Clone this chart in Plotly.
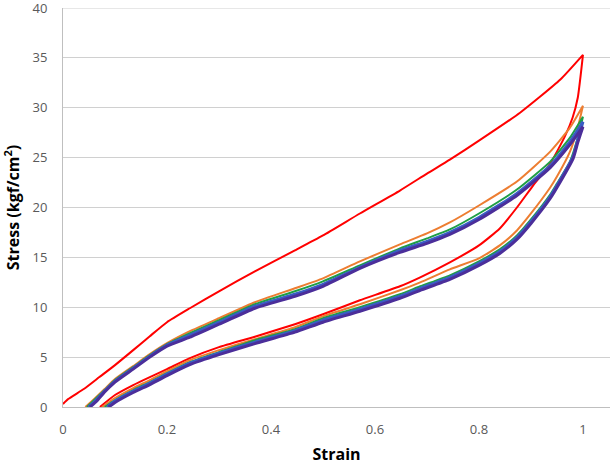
import plotly.graph_objects as go

# ---- data (strain, stress in kgf/cm^2) ----
red_load_x = [0, 0.01, 0.04, 0.07, 0.1, 0.135, 0.167, 0.2, 0.244, 0.3, 0.369, 0.446, 0.5, 0.571, 0.648, 0.7, 0.744, 0.8, 0.879, 0.956, 1.0]
red_load_y = [0.3, 0.8, 1.8, 3.0, 4.2, 5.7, 7.1, 8.5, 9.9, 11.6, 13.6, 15.7, 17.2, 19.4, 21.7, 23.4, 24.8, 26.7, 29.5, 32.8, 35.3]
red_unload_x = [1.0, 0.99, 0.98, 0.965, 0.937, 0.904, 0.873, 0.84, 0.8, 0.744, 0.687, 0.648, 0.571, 0.5, 0.446, 0.369, 0.3, 0.244, 0.2, 0.167, 0.135, 0.1, 0.071]
red_unload_y = [35.3, 31.0, 29.0, 27.1, 24.4, 22.2, 20.0, 17.9, 16.2, 14.5, 13.0, 12.1, 10.7, 9.3, 8.3, 7.05, 6.0, 4.9, 3.8, 3.0, 2.2, 1.2, 0]

load_x_orange = [0.043, 0.06, 0.08, 0.1, 0.135, 0.167, 0.2, 0.244, 0.3, 0.369, 0.446, 0.5, 0.571, 0.648, 0.7, 0.744, 0.8, 0.873, 0.937, 0.975, 1.0]
orange_load_y = [0, 0.8, 1.8, 2.8, 4.1, 5.3, 6.4, 7.6, 8.9, 10.5, 11.9, 12.9, 14.6, 16.3, 17.4, 18.5, 20.2, 22.6, 25.6, 28.0, 30.2]
load_x_green = [0.046, 0.06, 0.08, 0.1, 0.135, 0.167, 0.2, 0.244, 0.3, 0.369, 0.446, 0.5, 0.571, 0.648, 0.7, 0.744, 0.8, 0.873, 0.937, 0.975, 1.0]
green_load_y = [0, 0.7, 1.7, 2.7, 4.0, 5.2, 6.3, 7.4, 8.7, 10.3, 11.6, 12.6, 14.2, 15.9, 16.9, 17.8, 19.4, 21.8, 24.6, 27.0, 29.1]
load_x_blue = [0.049, 0.06, 0.08, 0.1, 0.135, 0.167, 0.2, 0.244, 0.3, 0.369, 0.446, 0.5, 0.571, 0.648, 0.7, 0.744, 0.8, 0.873, 0.937, 0.975, 1.0]
blue_load_y = [0, 0.5, 1.6, 2.6, 3.9, 5.1, 6.2, 7.2, 8.5, 10.1, 11.3, 12.3, 14.0, 15.7, 16.6, 17.5, 19.0, 21.4, 24.2, 26.6, 28.6]
load_x_purple = [0.052, 0.065, 0.08, 0.1, 0.135, 0.167, 0.2, 0.244, 0.3, 0.369, 0.446, 0.5, 0.571, 0.648, 0.7, 0.744, 0.8, 0.873, 0.937, 0.975, 1.0]
purple_load_y = [0, 0.6, 1.5, 2.5, 3.8, 5.0, 6.1, 7.0, 8.3, 9.9, 11.1, 12.1, 13.9, 15.5, 16.4, 17.3, 18.8, 21.2, 24.0, 26.3, 28.1]

unload_x_orange = [1.0, 0.99, 0.975, 0.95, 0.937, 0.9, 0.873, 0.84, 0.8, 0.744, 0.687, 0.648, 0.571, 0.5, 0.446, 0.369, 0.3, 0.244, 0.2, 0.167, 0.135, 0.1, 0.075]
orange_unload_y = [30.2, 28.0, 25.6, 23.1, 22.0, 19.4, 17.7, 16.2, 14.9, 13.8, 12.5, 11.7, 10.3, 9.1, 8.0, 6.8, 5.7, 4.7, 3.6, 2.7, 1.9, 0.9, 0]
unload_x_green = [1.0, 0.99, 0.975, 0.95, 0.937, 0.9, 0.873, 0.84, 0.8, 0.744, 0.687, 0.648, 0.571, 0.5, 0.446, 0.369, 0.3, 0.244, 0.2, 0.167, 0.135, 0.1, 0.08]
green_unload_y = [29.1, 27.0, 24.6, 22.4, 21.3, 18.8, 17.2, 15.8, 14.6, 13.2, 12.1, 11.3, 10.0, 8.9, 7.8, 6.7, 5.5, 4.5, 3.4, 2.5, 1.7, 0.7, 0]
unload_x_blue = [1.0, 0.99, 0.981, 0.95, 0.937, 0.9, 0.873, 0.84, 0.8, 0.744, 0.687, 0.648, 0.571, 0.5, 0.446, 0.369, 0.3, 0.244, 0.2, 0.167, 0.135, 0.1, 0.085]
blue_unload_y = [28.6, 26.8, 25.1, 22.2, 21.1, 18.6, 17.0, 15.6, 14.4, 13.0, 11.9, 11.1, 9.8, 8.7, 7.65, 6.5, 5.4, 4.4, 3.3, 2.4, 1.6, 0.6, 0]
unload_x_purple = [1.0, 0.99, 0.981, 0.95, 0.937, 0.9, 0.873, 0.84, 0.8, 0.744, 0.687, 0.648, 0.571, 0.5, 0.446, 0.369, 0.3, 0.244, 0.2, 0.167, 0.135, 0.1, 0.088]
purple_unload_y = [28.1, 26.5, 24.9, 22.0, 20.9, 18.4, 16.8, 15.4, 14.2, 12.8, 11.7, 10.9, 9.6, 8.5, 7.5, 6.35, 5.25, 4.25, 3.15, 2.25, 1.45, 0.45, 0]

x_ticks = [0, 0.2, 0.4, 0.6, 0.8, 1]
x_tick_text = ["0", "0.2", "0.4", "0.6", "0.8", "1"]
y_ticks = [0, 5, 10, 15, 20, 25, 30, 35, 40]

series = [
    ("Cycle 1", red_load_x + red_unload_x, red_load_y + red_unload_y, "#FF0000", 2),
    ("Cycle 2", load_x_orange + unload_x_orange, orange_load_y + orange_unload_y, "#ED7D31", 2),
    ("Cycle 3", load_x_green + unload_x_green, green_load_y + green_unload_y, "#1E9E45", 2),
    ("Cycle 4", load_x_blue + unload_x_blue, blue_load_y + blue_unload_y, "#3A5CC4", 3),
    ("Cycle 5", load_x_purple + unload_x_purple, purple_load_y + purple_unload_y, "#4B2E9A", 3),
]

fig = go.Figure()
for name, xs, ys, color, w in series:
    fig.add_trace(go.Scatter(x=xs, y=ys, mode="lines", name=name,
                             line=dict(color=color, width=w, shape="spline", smoothing=0.5)))

tick_font = dict(family="Open Sans, Liberation Sans, sans-serif", size=13, color="#595959")
title_font = dict(family="Open Sans, Liberation Sans, sans-serif", size=16, color="#000000")

# top gridline (plotly omits gridlines lying on the plot edge)
fig.add_shape(type="line", xref="paper", yref="y", x0=0, x1=1,
              y0=y_ticks[-1], y1=y_ticks[-1], line=dict(color="#D0D0D0", width=1), layer="below")

fig.update_layout(
    width=610, height=470,
    margin=dict(l=63, r=0, t=8, b=63),
    paper_bgcolor="white", plot_bgcolor="white",
    showlegend=False,
    xaxis=dict(range=[0, 1.052], tickvals=x_ticks, ticktext=x_tick_text,
               showgrid=False, zeroline=False, showline=True, linecolor="#BFBFBF", linewidth=1,
               ticks="", tickfont=tick_font, ticklabelstandoff=10,
               title=dict(text="<b>Strain</b>", font=title_font, standoff=12)),
    yaxis=dict(range=[0, 40], tickvals=y_ticks,
               showgrid=True, gridcolor="#D0D0D0", gridwidth=1, zeroline=False,
               showline=True, linecolor="#BFBFBF", linewidth=1,
               ticks="", tickfont=tick_font, ticklabelstandoff=12, ticklabeloverflow="allow",
               title=dict(text="<b>Stress (kgf/cm<sup>2</sup>)</b>", font=title_font, standoff=12)),
)

fig.write_html("out.html")
